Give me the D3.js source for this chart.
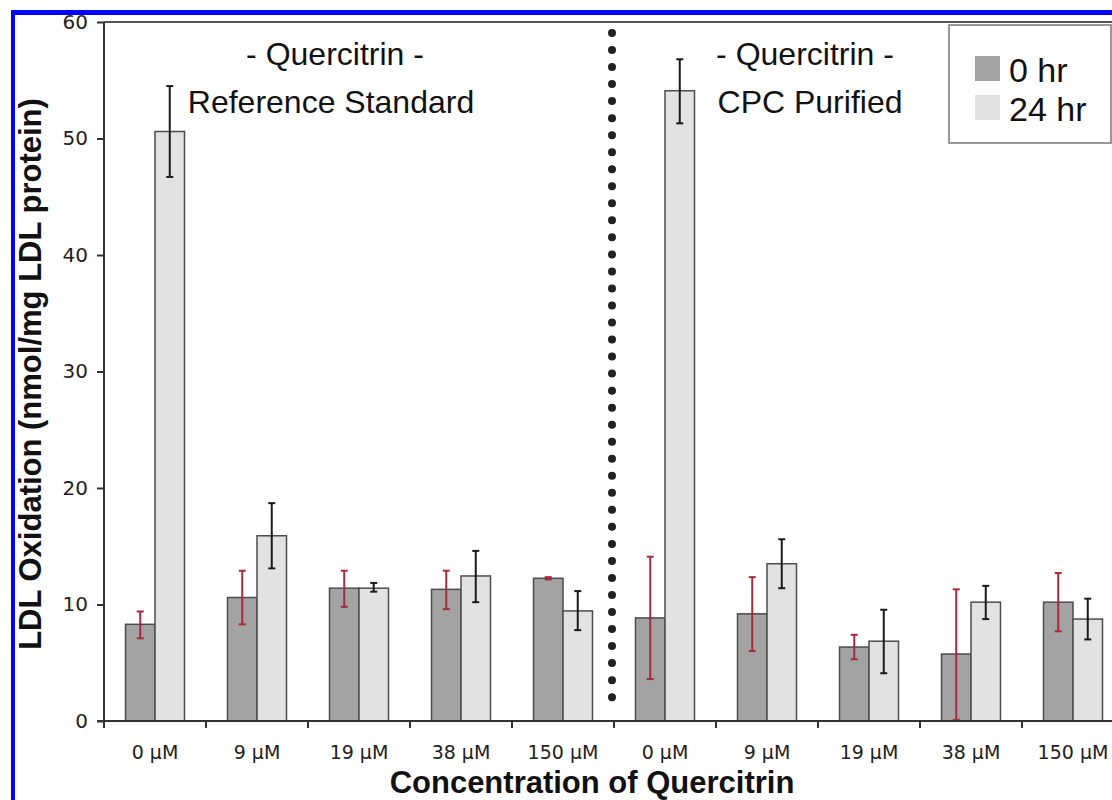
<!DOCTYPE html>
<html>
<head>
<meta charset="utf-8">
<script src="https://cdn.jsdelivr.net/npm/d3@7"></script>
<style>
  body { margin: 0; background: #fff; }
  svg { display: block; }
</style>
</head>
<body>
<svg id="chart" width="1112" height="800"></svg>
<script>
// concentrations, two panels of five
const categories = ["0 µM", "9 µM", "19 µM", "38 µM", "150 µM",
                    "0 µM", "9 µM", "19 µM", "38 µM", "150 µM"];
const seriesNames = ["0 hr", "24 hr"];

const hr0   = [8.3, 10.6, 11.4, 11.3, 12.25, 8.85, 9.2, 6.35, 5.75, 10.2];
const hr0Lo = [7.1, 8.3, 9.8, 9.6, 12.15, 3.6, 6.0, 5.3, 0.1, 7.7];
const hr0Hi = [9.4, 12.9, 12.9, 12.9, 12.35, 14.1, 12.35, 7.4, 11.3, 12.7];

const hr24   = [50.6, 15.9, 11.4, 12.45, 9.45, 54.1, 13.5, 6.85, 10.2, 8.75];
const hr24Lo = [46.7, 13.1, 11.1, 10.2, 7.8, 51.3, 11.4, 4.1, 8.75, 7.0];
const hr24Hi = [54.5, 18.7, 11.85, 14.6, 11.15, 56.8, 15.6, 9.55, 11.6, 10.5];

const yTicks = [0, 10, 20, 30, 40, 50, 60];
const panelTitles = [["- Quercitrin -", "Reference Standard"], ["- Quercitrin -", "CPC Purified"]];

const svg = d3.select("#chart");
const plotLeft = 104, plotTop = 22, plotBottom = 721, step = 102;
const keys = d3.range(categories.length);

const x0 = d3.scaleBand().domain(keys).range([plotLeft, plotLeft + step * keys.length]);
const x1 = d3.scaleBand().domain(seriesNames).range([21.5, 80.5]);
const y = d3.scaleLinear().domain([0, 60]).range([plotBottom, plotTop]);

const fills = {"0 hr": "#a3a3a3", "24 hr": "#e2e2e2"};
const errColors = {"0 hr": "#a82a3e", "24 hr": "#1a1a1a"};

// blue frame
svg.append("rect").attr("x", 11).attr("y", 10).attr("width", 4).attr("height", 790).attr("fill", "#0000ff");
svg.append("rect").attr("x", 11).attr("y", 10).attr("width", 1101).attr("height", 5).attr("fill", "#0000ff");

// top plot border
svg.append("line")
  .attr("x1", plotLeft).attr("x2", 1112).attr("y1", plotTop).attr("y2", plotTop)
  .attr("stroke", "#555").attr("stroke-width", 2);

// rows for bars
const rows = [];
keys.forEach(i => {
  rows.push({i: i, s: "0 hr", v: hr0[i], lo: hr0Lo[i], hi: hr0Hi[i]});
  rows.push({i: i, s: "24 hr", v: hr24[i], lo: hr24Lo[i], hi: hr24Hi[i]});
});

const bars = svg.append("g").attr("class", "bars");
bars.selectAll("rect")
  .data(rows)
  .join("rect")
    .attr("x", d => x0(d.i) + x1(d.s))
    .attr("y", d => y(d.v))
    .attr("width", x1.bandwidth())
    .attr("height", d => y(0) - y(d.v))
    .attr("fill", d => fills[d.s])
    .attr("stroke", "#4d4d4d")
    .attr("stroke-width", 1.5);

// error bars
const err = svg.append("g").attr("class", "errors");
const errG = err.selectAll("g")
  .data(rows)
  .join("g")
    .attr("transform", d => "translate(" + (x0(d.i) + x1(d.s) + x1.bandwidth() / 2) + ",0)")
    .attr("stroke", d => errColors[d.s])
    .attr("stroke-width", 2);
errG.append("line").attr("y1", d => y(d.lo)).attr("y2", d => y(d.hi));
errG.append("line").attr("x1", -3.5).attr("x2", 3.5).attr("y1", d => y(d.hi)).attr("y2", d => y(d.hi));
errG.append("line").attr("x1", -3.5).attr("x2", 3.5).attr("y1", d => y(d.lo)).attr("y2", d => y(d.lo));

// dotted divider between panels
const divX = x0(5) - 2;
svg.append("line")
  .attr("x1", divX).attr("x2", divX)
  .attr("y1", 33).attr("y2", 714)
  .attr("stroke", "#222")
  .attr("stroke-width", 8)
  .attr("stroke-linecap", "round")
  .attr("stroke-dasharray", "0 17.03");

// y axis
const yAxis = svg.append("g")
  .attr("transform", "translate(" + plotLeft + ",0)")
  .call(d3.axisLeft(y).tickValues(yTicks).tickSize(7).tickSizeOuter(0).tickPadding(9));
yAxis.select(".domain").attr("stroke", "#333").attr("stroke-width", 2)
  .attr("d", "M0," + plotTop + "V" + (plotBottom + 7));
yAxis.selectAll(".tick line").attr("stroke", "#333").attr("stroke-width", 2);
yAxis.selectAll(".tick text")
  .attr("font-family", "DejaVu Sans").attr("font-size", 20).attr("fill", "#222");

// x axis
const xAxis = svg.append("g")
  .attr("transform", "translate(0," + plotBottom + ")")
  .call(d3.axisBottom(x0).tickSize(0).tickPadding(25).tickFormat(i => categories[i]));
xAxis.select(".domain").attr("stroke", "#333").attr("stroke-width", 2)
  .attr("d", "M" + (plotLeft - 7) + ",0H1112");
xAxis.selectAll(".tick text")
  .attr("font-family", "DejaVu Sans").attr("font-size", 19).attr("fill", "#222");
xAxis.selectAll("line.bound")
  .data(keys.slice(1))
  .join("line")
    .attr("class", "bound")
    .attr("x1", i => x0(i)).attr("x2", i => x0(i))
    .attr("y1", 0).attr("y2", 7)
    .attr("stroke", "#333").attr("stroke-width", 2);

// panel titles
const titleX = [[335, 331], [805, 810]];
panelTitles.forEach((t, k) => {
  const g = svg.append("g").attr("font-family", "Liberation Sans").attr("font-size", 32).attr("fill", "#111")
    .attr("text-anchor", "middle");
  g.append("text").attr("x", titleX[k][0]).attr("y", 65).text(t[0]);
  g.append("text").attr("x", titleX[k][1]).attr("y", 113).text(t[1]);
});

// legend
const legend = svg.append("g").attr("transform", "translate(949,25)");
legend.append("rect").attr("width", 162).attr("height", 118)
  .attr("fill", "#fff").attr("stroke", "#777").attr("stroke-width", 1.5);
seriesNames.forEach((s, k) => {
  legend.append("rect").attr("x", 26).attr("y", 31 + k * 39).attr("width", 25).attr("height", 25)
    .attr("fill", fills[s]);
  legend.append("text").attr("x", 60).attr("y", 57 + k * 39)
    .attr("font-family", "Liberation Sans").attr("font-size", 34).attr("fill", "#111")
    .text(s);
});

// axis titles
svg.append("text")
  .attr("transform", "translate(41," + 374 + ") rotate(-90)")
  .attr("text-anchor", "middle")
  .attr("font-family", "Liberation Sans").attr("font-weight", "bold").attr("font-size", 31)
  .attr("fill", "#111")
  .text("LDL Oxidation (nmol/mg LDL protein)");

svg.append("text")
  .attr("x", 592).attr("y", 793)
  .attr("text-anchor", "middle")
  .attr("font-family", "Liberation Sans").attr("font-weight", "bold").attr("font-size", 31)
  .attr("fill", "#111")
  .text("Concentration of Quercitrin");
</script>
</body>
</html>
